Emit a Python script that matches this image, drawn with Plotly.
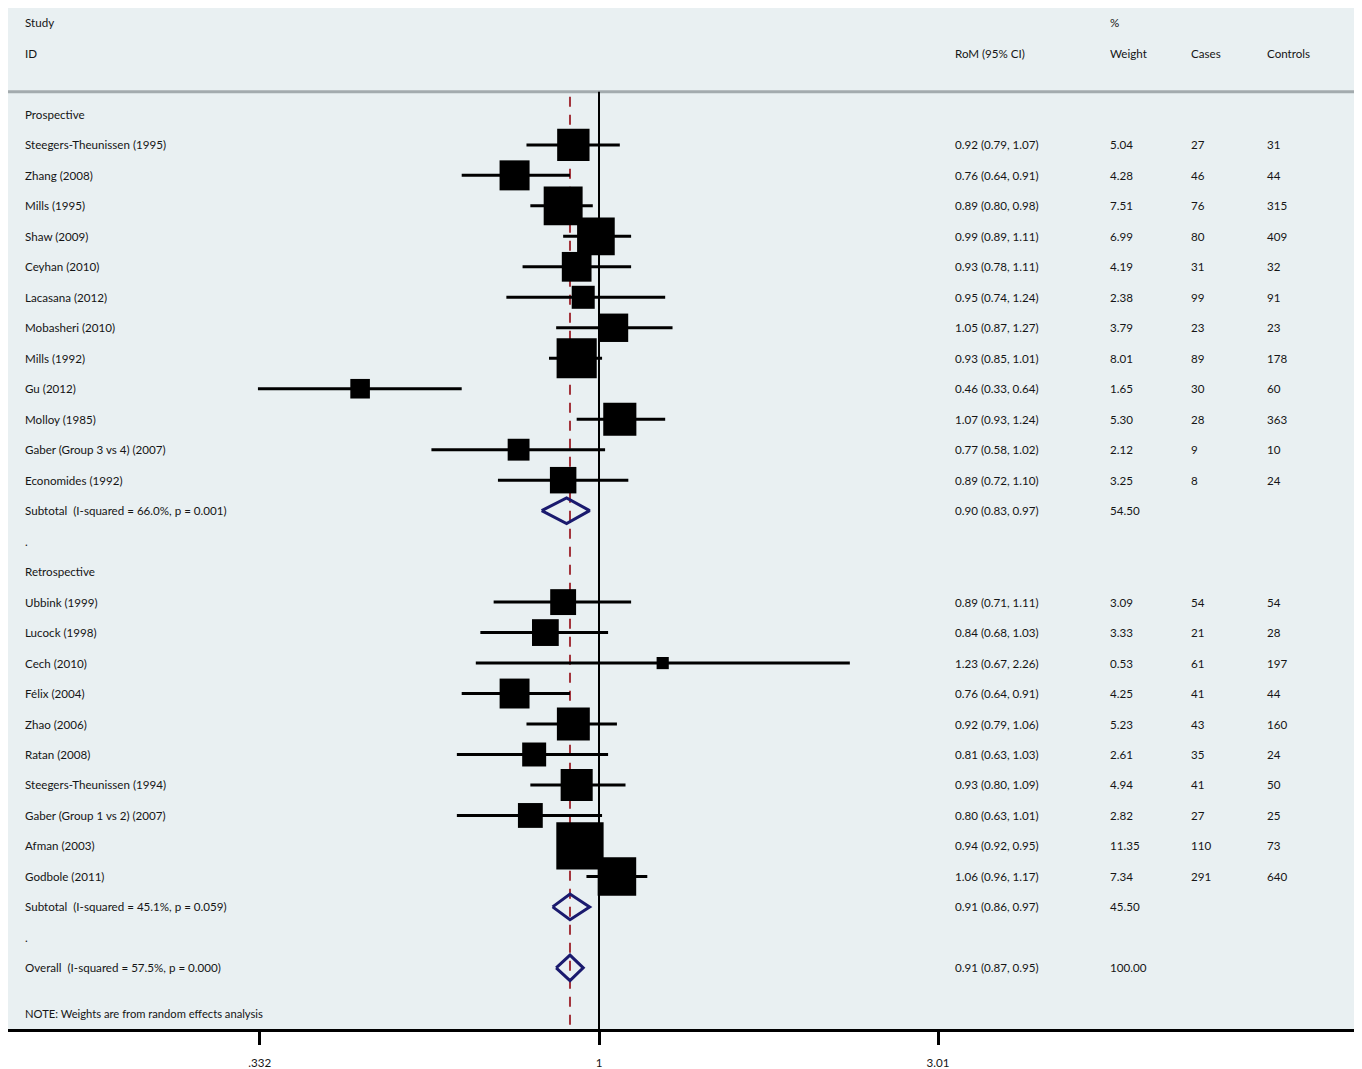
import plotly.graph_objects as go
import math

# ---------------- data ----------------
pro_names = ["Steegers-Theunissen (1995)", "Zhang (2008)", "Mills (1995)", "Shaw (2009)",
             "Ceyhan (2010)", "Lacasana (2012)", "Mobasheri (2010)", "Mills (1992)",
             "Gu (2012)", "Molloy (1985)", "Gaber (Group 3 vs 4) (2007)", "Economides (1992)"]
pro_rom = [0.92, 0.76, 0.89, 0.99, 0.93, 0.95, 1.05, 0.93, 0.46, 1.07, 0.77, 0.89]
pro_lo = [0.79, 0.64, 0.80, 0.89, 0.78, 0.74, 0.87, 0.85, 0.33, 0.93, 0.58, 0.72]
pro_hi = [1.07, 0.91, 0.98, 1.11, 1.11, 1.24, 1.27, 1.01, 0.64, 1.24, 1.02, 1.10]
pro_wt = [5.04, 4.28, 7.51, 6.99, 4.19, 2.38, 3.79, 8.01, 1.65, 5.30, 2.12, 3.25]
pro_cases = [27, 46, 76, 80, 31, 99, 23, 89, 30, 28, 9, 8]
pro_ctrl = [31, 44, 315, 409, 32, 91, 23, 178, 60, 363, 10, 24]

ret_names = ["Ubbink (1999)", "Lucock (1998)", "Cech (2010)", "Félix (2004)", "Zhao (2006)",
             "Ratan (2008)", "Steegers-Theunissen (1994)", "Gaber (Group 1 vs 2) (2007)",
             "Afman (2003)", "Godbole (2011)"]
ret_rom = [0.89, 0.84, 1.23, 0.76, 0.92, 0.81, 0.93, 0.80, 0.94, 1.06]
ret_lo = [0.71, 0.68, 0.67, 0.64, 0.79, 0.63, 0.80, 0.63, 0.92, 0.96]
ret_hi = [1.11, 1.03, 2.26, 0.91, 1.06, 1.03, 1.09, 1.01, 0.95, 1.17]
ret_wt = [3.09, 3.33, 0.53, 4.25, 5.23, 2.61, 4.94, 2.82, 11.35, 7.34]
ret_cases = [54, 21, 61, 41, 43, 35, 41, 27, 110, 291]
ret_ctrl = [54, 28, 197, 44, 160, 24, 50, 25, 73, 640]

sub_labels = ["Subtotal  (I-squared = 66.0%, p = 0.001)",
              "Subtotal  (I-squared = 45.1%, p = 0.059)",
              "Overall  (I-squared = 57.5%, p = 0.000)"]
sub_rom = [0.90, 0.91, 0.91]
sub_lo = [0.83, 0.86, 0.87]
sub_hi = [0.97, 0.97, 0.95]
sub_wt = ["54.50", "45.50", "100.00"]

overall_est = 0.91
tick_vals = [0.332, 1, 3.01]
tick_text = [".332", "1", "3.01"]

# ---------------- layout helpers ----------------
# page has an 8px body margin: figure starts at screen (8, 8)
OFF = 8
W_SCR, H_SCR = 1362, 1069
FW, FH = W_SCR - OFF, H_SCR - OFF
PLOT_BOTTOM_SCR = 1031
row_px0, row_step = 23, 30.54


def px_to_paper(px):
    return (px - OFF) / FW


# x log range so that 1 -> px 599, 3.01 -> px 938 (screen coords)
k = (938 - 599) / math.log10(3.01)
xr = [(OFF - 599) / k, (W_SCR - 599) / k]
yr = [(PLOT_BOTTOM_SCR - row_px0) / row_step, (OFF - row_px0) / row_step]

FONT = "Lato"
TXT = "#151515"
FS = 11.6
COL_NAME, COL_ROM, COL_WT, COL_CASE, COL_CTRL = 23, 953, 1108, 1189, 1265

annotations = []


def add_text(text, px, row, size=FS):
    annotations.append(dict(text=text, x=px_to_paper(px), xref="paper", y=row, yref="y",
                            xanchor="left", yanchor="middle", showarrow=False,
                            font=dict(family=FONT, size=size, color=TXT)))


# header
add_text("Study", COL_NAME, 0)
add_text("ID", COL_NAME, 1)
add_text("%", COL_WT, 0)
add_text("RoM (95% CI)", COL_ROM, 1)
add_text("Weight", COL_WT, 1)
add_text("Cases", COL_CASE, 1)
add_text("Controls", COL_CTRL, 1)

study_rows, study_rom, study_lo, study_hi, study_wt = [], [], [], [], []


def add_group(title, title_row, names, rom, lo, hi, wt, cases, ctrl):
    add_text(title, COL_NAME, title_row)
    for i, n in enumerate(names):
        r = title_row + 1 + i
        add_text(n, COL_NAME, r)
        add_text(f"{rom[i]:.2f} ({lo[i]:.2f}, {hi[i]:.2f})", COL_ROM, r)
        add_text(f"{wt[i]:.2f}", COL_WT, r)
        add_text(str(cases[i]), COL_CASE, r)
        add_text(str(ctrl[i]), COL_CTRL, r)
        study_rows.append(r)
        study_rom.append(rom[i]); study_lo.append(lo[i]); study_hi.append(hi[i]); study_wt.append(wt[i])
    return title_row + 1 + len(names)


r1 = add_group("Prospective", 3, pro_names, pro_rom, pro_lo, pro_hi, pro_wt, pro_cases, pro_ctrl)
r2 = add_group("Retrospective", r1 + 2, ret_names, ret_rom, ret_lo, ret_hi, ret_wt, ret_cases, ret_ctrl)
sub_rows = [r1, r2, r2 + 2]
add_text(".", COL_NAME, r1 + 1)
add_text(".", COL_NAME, r2 + 1)
for i, r in enumerate(sub_rows):
    add_text(sub_labels[i], COL_NAME, r)
    add_text(f"{sub_rom[i]:.2f} ({sub_lo[i]:.2f}, {sub_hi[i]:.2f})", COL_ROM, r)
    add_text(sub_wt[i], COL_WT, r)
add_text("NOTE: Weights are from random effects analysis", COL_NAME, sub_rows[2] + 1.5, size=FS - 0.4)

# ---------------- traces ----------------
fig = go.Figure()

# CI lines
cx, cy = [], []
for r, lo, hi in zip(study_rows, study_lo, study_hi):
    cx += [lo, hi, None]
    cy += [r, r, None]
fig.add_trace(go.Scatter(x=cx, y=cy, mode="lines", line=dict(color="black", width=3),
                         hoverinfo="skip", showlegend=False))

# weight boxes
sizes = [13.3 * math.sqrt(w) + 2.5 for w in study_wt]
fig.add_trace(go.Scatter(x=study_rom, y=study_rows, mode="markers",
                         marker=dict(symbol="square", size=sizes, color="black", opacity=1,
                                     line=dict(width=0)),
                         hoverinfo="skip", showlegend=False))

# diamonds
dx, dy = [], []
hh = 0.42
for r, est, lo, hi in zip(sub_rows, sub_rom, sub_lo, sub_hi):
    dx += [lo, est, hi, est, lo, None]
    dy += [r, r - hh, r, r + hh, r, None]
fig.add_trace(go.Scatter(x=dx, y=dy, mode="lines", line=dict(color="#1a1a6e", width=3),
                         hoverinfo="skip", showlegend=False))

sep_row = (92 - row_px0) / row_step
shapes = [
    dict(type="line", xref="paper", x0=0, x1=1, yref="y", y0=sep_row, y1=sep_row,
         line=dict(color="#a3abae", width=3), layer="below"),
    dict(type="line", xref="x", x0=1, x1=1, yref="y", y0=sep_row, y1=yr[0],
         line=dict(color="black", width=2), layer="below"),
    dict(type="line", xref="x", x0=overall_est, x1=overall_est, yref="y",
         y0=(97 - row_px0) / row_step, y1=yr[0],
         line=dict(color="#a3343c", width=2, dash="10px,8px"), layer="below"),
]

fig.update_layout(
    width=FW, height=FH,
    margin=dict(l=0, r=0, t=0, b=H_SCR - PLOT_BOTTOM_SCR),
    paper_bgcolor="white", plot_bgcolor="#e9f0f2",
    showlegend=False,
    annotations=annotations,
    shapes=shapes,
    xaxis=dict(type="log", range=xr, tickvals=tick_vals, ticktext=tick_text,
               ticks="outside", ticklen=13, tickwidth=3, tickcolor="black",
               showline=True, linecolor="black", linewidth=3, showgrid=False,
               zeroline=False, fixedrange=True, ticklabelstandoff=8,
               tickfont=dict(family=FONT, size=FS, color=TXT)),
    yaxis=dict(range=yr, visible=False, showgrid=False, zeroline=False, fixedrange=True),
)

fig.write_html("out.html")
